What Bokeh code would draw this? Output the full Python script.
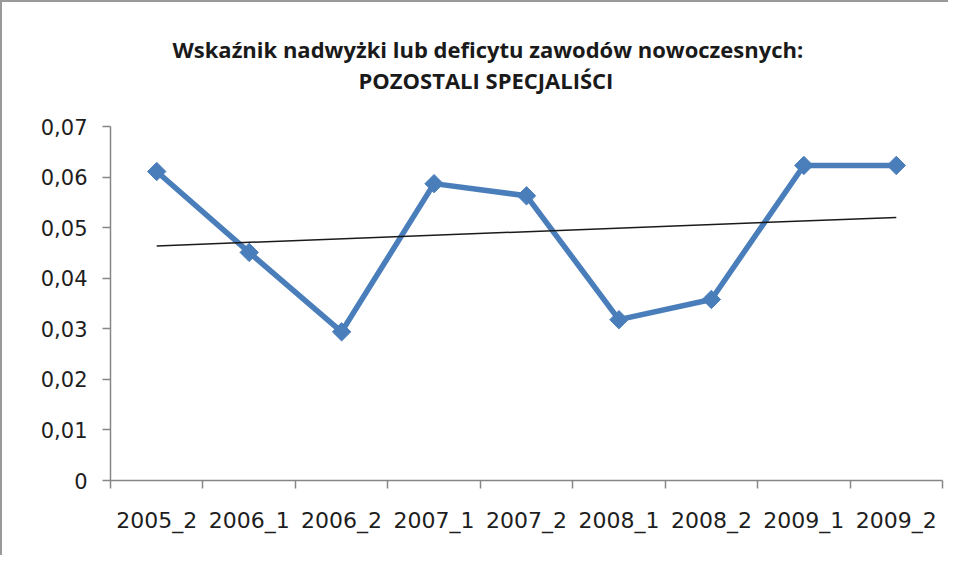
import numpy as np
from bokeh.plotting import figure
from bokeh.models import Range1d, FixedTicker, ColumnDataSource
from bokeh.core.properties import value
from bokeh.embed import file_html
from bokeh.resources import INLINE

# ---- data ----
categories = ["2005_2", "2006_1", "2006_2", "2007_1", "2007_2",
              "2008_1", "2008_2", "2009_1", "2009_2"]
values = [0.0611, 0.0451, 0.0294, 0.0587, 0.0563, 0.0318, 0.0358, 0.0623, 0.0623]
y_ticks = [0.0, 0.01, 0.02, 0.03, 0.04, 0.05, 0.06, 0.07]
y_tick_labels = ["0", "0,01", "0,02", "0,03", "0,04", "0,05", "0,06", "0,07"]
title_line1 = "Wskaźnik nadwyżki lub deficytu zawodów nowoczesnych:"
title_line2 = "POZOSTALI SPECJALIŚCI"

n = len(categories)
xs = [i + 0.5 for i in range(n)]
y_axis_max = y_ticks[-1]

# linear trend line (least squares) of the series
coef = np.polyfit(xs, values, 1)
trend_x = [xs[0], xs[-1]]
trend_y = [float(coef[0] * x + coef[1]) for x in trend_x]

# layout (pixels): axis part of the frame is 354 px tall for 0..0.07,
# the frame is extended upward to hold the title
W, H = 948, 555
axis_px = 354
top_extra_px = 107
frame_px = axis_px + top_extra_px
per_px = y_axis_max / axis_px
frame_w_px = W - 108 - 8
per_px_x = n / frame_w_px

p = figure(width=W, height=H, output_backend="svg", toolbar_location=None,
           x_range=Range1d(0, n), y_range=Range1d(0, frame_px * per_px),
           min_border_left=108, min_border_right=8,
           min_border_top=17, min_border_bottom=H - 17 - frame_px)
p.title = None
p.outline_line_color = None
p.grid.visible = False
p.background_fill_color = "white"
p.border_fill_color = "white"
p.styles = {"border-top": "2px solid #9a9a9a", "border-left": "2px solid #9a9a9a"}

axis_color = "#868686"
label_font = "DejaVu Sans"

# x axis: labels at category centres, tick marks at boundaries
p.xaxis.ticker = FixedTicker(ticks=xs, minor_ticks=list(range(n + 1)))
p.xaxis.major_label_overrides = {x: c for x, c in zip(xs, categories)}
p.xaxis.major_tick_out = 0
p.xaxis.major_tick_in = 0
p.xaxis.minor_tick_out = 8
p.xaxis.minor_tick_in = 0
p.xaxis.minor_tick_line_color = axis_color
p.xaxis.minor_tick_line_width = 1.5
p.xaxis.axis_line_color = axis_color
p.xaxis.axis_line_width = 1.5
p.xaxis.major_label_text_font = label_font
p.xaxis.major_label_text_font_size = "22px"
p.xaxis.major_label_text_color = "#1e1e1e"
p.xaxis.major_label_standoff = 19

p.yaxis.ticker = FixedTicker(ticks=y_ticks)
p.yaxis.bounds = (0, y_axis_max)
p.yaxis.major_label_overrides = {t: l for t, l in zip(y_ticks, y_tick_labels)}
p.yaxis.major_tick_out = 8
p.yaxis.major_tick_in = 0
p.yaxis.minor_tick_line_color = None
p.yaxis.major_tick_line_color = axis_color
p.yaxis.major_tick_line_width = 1.5
p.yaxis.axis_line_color = axis_color
p.yaxis.axis_line_width = 1.5
p.yaxis.major_label_text_font = label_font
p.yaxis.major_label_text_font_size = "21px"
p.yaxis.major_label_text_color = "#1e1e1e"
p.yaxis.major_label_standoff = 15

src = ColumnDataSource(dict(x=xs, y=values))
blue = "#4a7ebb"
p.line("x", "y", source=src, line_color=blue, line_width=5.5, line_join="round")
p.scatter("x", "y", source=src, marker="square", angle=np.pi / 4, size=13,
          fill_color=blue, line_color=blue)
p.line(trend_x, trend_y, line_color="#1a1a1a", line_width=1.5)

# two-line title, drawn as text inside the upper (axis-free) part of the frame
title_src = ColumnDataSource(dict(
    x=[62 * per_px_x, 248 * per_px_x],
    y=[(481 - 49) * per_px, (481 - 80) * per_px],
    t=[title_line1, title_line2]))
p.text("x", "y", text="t", source=title_src, text_align="left",
       text_baseline="middle", text_font=value("Open Sans"),
       text_font_style="bold", text_font_size="22px", text_color="#1a1a1a")

open("out.html", "w").write(file_html(p, INLINE))
